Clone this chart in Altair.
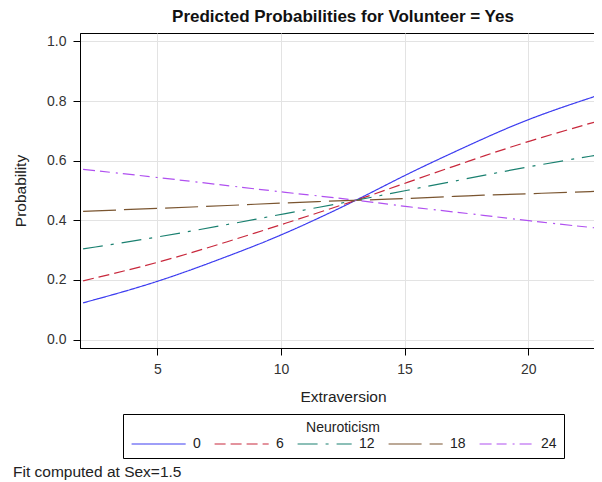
import altair as alt
import pandas as pd

# ---- data ----
extraversion = [2, 5, 8, 10, 13.1, 15, 17.6, 20, 23]
neuro_levels = ["0", "6", "12", "18", "24"]
prob_n0 = [0.123, 0.191, 0.284, 0.348, 0.468, 0.552, 0.652, 0.742, 0.824]
prob_n6 = [0.197, 0.256, 0.332, 0.385, 0.468, 0.524, 0.599, 0.666, 0.737]
prob_n12 = [0.304, 0.343, 0.388, 0.420, 0.468, 0.499, 0.541, 0.580, 0.622]
prob_n18 = [0.430, 0.440, 0.450, 0.458, 0.468, 0.472, 0.483, 0.489, 0.498]
prob_n24 = [0.571, 0.544, 0.515, 0.495, 0.468, 0.446, 0.423, 0.398, 0.372]
x_ticks = [5, 10, 15, 20]
y_ticks = [0.0, 0.2, 0.4, 0.6, 0.8, 1.0]
title_text = "Predicted Probabilities for Volunteer = Yes"
footnote_text = "Fit computed at Sex=1.5"

series = [prob_n0, prob_n6, prob_n12, prob_n18, prob_n24]
rows = []
for lvl, vals in zip(neuro_levels, series):
    for xv, pv in zip(extraversion, vals):
        rows.append({"Extraversion": xv, "Probability": pv, "Neuroticism": lvl})
df = pd.DataFrame(rows)

colors = ["#3c3cf0", "#c8283c", "#1a8070", "#7a5530", "#b050f0"]
dashes = [[1, 0], [11, 5], [20, 8, 3, 8], [33, 8], [12, 5, 10, 6, 2, 5]]

FONT = "Liberation Sans"

legend = alt.Legend(
    orient="none", legendX=43, legendY=381, direction="horizontal", columns=5,
    title="Neuroticism", titleAnchor="middle", titleFontWeight="normal",
    titleFontSize=14, titleColor="#222", titleFont=FONT, titlePadding=2,
    labelFontSize=14, labelColor="#222", labelFont=FONT, labelOffset=49,
    symbolType="M-1,0H9", symbolSize=117, symbolStrokeWidth=1.2,
    symbolFillColor="transparent",
    columnPadding=11, padding=7, strokeColor="black",
)

lines = alt.Chart(df).mark_line(strokeWidth=1.2, clip=True, interpolate="basis").encode(
    x=alt.X("Extraversion:Q",
            scale=alt.Scale(domain=[1.875, 22.66], nice=False, zero=False),
            axis=alt.Axis(values=x_ticks, title="Extraversion", format="d",
                          tickSize=7, labelPadding=7, titlePadding=13, titleX=263)),
    y=alt.Y("Probability:Q",
            scale=alt.Scale(domain=[-0.0285, 1.0285], nice=False, zero=False),
            axis=alt.Axis(values=y_ticks, title="Probability", format=".1f",
                          tickSize=7, labelPadding=7, titlePadding=18)),
    color=alt.Color("Neuroticism:N", sort=neuro_levels,
                    scale=alt.Scale(domain=neuro_levels, range=colors), legend=legend),
    strokeDash=alt.StrokeDash("Neuroticism:N", sort=neuro_levels,
                              scale=alt.Scale(domain=neuro_levels, range=dashes), legend=legend),
    detail="Neuroticism:N",
)

foot = alt.Chart(pd.DataFrame({"t": [footnote_text]})).mark_text(
    align="left", baseline="middle", fontSize=15.5, font=FONT, color="#222"
).encode(text="t:N", x=alt.value(-67), y=alt.value(439))

chart = alt.layer(lines, foot).properties(
    width=514, height=315,
    background="white",
    title=alt.TitleParams(title_text, fontSize=17, fontWeight="bold", font=FONT,
                          color="#111", anchor="middle", offset=7, dx=6),
    padding={"left": 72, "top": 25, "right": 0, "bottom": 134},
    autosize=alt.AutoSizeParams(type="none"),
).configure_view(stroke="black", strokeWidth=1).configure_axis(
    labelFont=FONT, labelFontSize=14, labelColor="#333",
    titleFont=FONT, titleFontSize=15.5, titleFontWeight="normal", titleColor="#222",
    gridColor="#e3e3e3", gridWidth=1, domainColor="black", tickColor="black",
    domainWidth=1, tickWidth=1,
)

chart.save("out.html", embed_options={"renderer": "svg", "actions": False})
